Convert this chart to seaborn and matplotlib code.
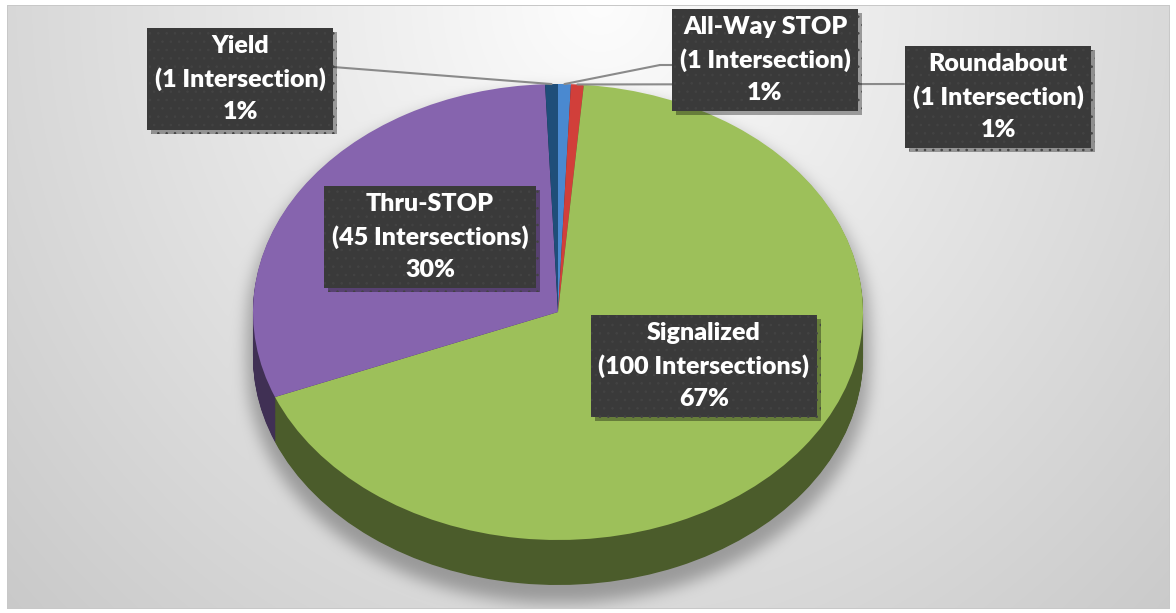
import numpy as np
import matplotlib
matplotlib.use('Agg')
import matplotlib.pyplot as plt
import matplotlib.colors as mcolors
import matplotlib.patheffects as pe
import seaborn as sns

# ---------------- data ----------------
categories = ['All-Way STOP', 'Roundabout', 'Signalized', 'Thru-STOP', 'Yield']
counts = [1, 1, 100, 45, 1]
count_labels = ['(1 Intersection)', '(1 Intersection)', '(100 Intersections)',
                '(45 Intersections)', '(1 Intersection)']
pct_labels = ['1%', '1%', '67%', '30%', '1%']
slice_colors = ['#4A89D0', '#D13F3A', '#9DC05A', '#8664AE', '#1F4E79']

# ---------------- layout (pixels, top-left origin) ----------------
W, H, DPI = 1176, 613, 100
CX, CY, RX, RY, DEPTH = 558, 312, 305, 228, 45
label_centers = {
    'All-Way STOP': (765, 60),
    'Roundabout': (998, 97),
    'Signalized': (704, 366),
    'Thru-STOP': (430, 237),
    'Yield': (240, 79),
}
leader_ends = {
    'All-Way STOP': [(660, 65), (672, 65)],
    'Roundabout': [(904, 84)],
    'Yield': [(333, 67)],
}

sns.set_theme(style='white')
plt.rcParams['font.family'] = ['Lato', 'DejaVu Sans']
plt.rcParams['hatch.linewidth'] = 0.6
palette = sns.color_palette(slice_colors)

fig = plt.figure(figsize=(W / DPI, H / DPI), dpi=DPI)
fig.patch.set_facecolor('white')

# ---------------- background with soft shadow ----------------
yy, xx = np.mgrid[0:H, 0:W].astype(float)
d = np.sqrt(((xx - 600) / 600) ** 2 + (yy / 650) ** 2)
val = 253 - 38 * d


def box_blur(a, r):
    for axis in (0, 1):
        a = np.swapaxes(a, 0, axis)
        p = np.pad(a, ((r + 1, r), (0, 0)), mode='edge')
        c = np.cumsum(p, axis=0)
        a = (c[2 * r + 1:] - c[:-2 * r - 1]) / (2 * r + 1)
        a = np.swapaxes(a, 0, axis)
    return a


sx, sy, grow = 0, 12, 6
top_e = ((xx - CX - sx) / (RX + grow)) ** 2 + ((yy - CY - sy) / (RY + grow)) ** 2 <= 1
bot_e = ((xx - CX - sx) / (RX + grow)) ** 2 + ((yy - CY - DEPTH - sy) / (RY + grow)) ** 2 <= 1
band = (np.abs(xx - CX - sx) <= RX + grow) & (yy >= CY + sy) & (yy <= CY + DEPTH + sy)
sil = (top_e | bot_e | band).astype(float)
for _ in range(3):
    sil = box_blur(sil, 7)
val = val - 65 * sil

outside = (xx < 7) | (xx > 1169) | (yy < 5) | (yy > 608)
val[outside] = 255
edge = ((np.abs(xx - 7) < 1) | (np.abs(xx - 1169) < 1)) & (yy >= 5) & (yy <= 608)
edge |= ((np.abs(yy - 5) < 1) | (np.abs(yy - 608) < 1)) & (xx >= 7) & (xx <= 1169)
val[edge] = 200
rgb = np.clip(np.stack([val, val, val], axis=-1) / 255.0, 0, 1)

bg = fig.add_axes([0, 0, 1, 1], zorder=0)
bg.imshow(rgb, extent=(0, W, H, 0), aspect='auto', interpolation='bilinear')
bg.set_xlim(0, W)
bg.set_ylim(H, 0)
bg.axis('off')

# ---------------- pie ----------------
ax = fig.add_axes([0, 0, 1, 1], zorder=1)
ax.patch.set_alpha(0)

depth_data = DEPTH / RY
side_colors = [tuple(np.array(mcolors.to_rgb(c)) * 0.48) for c in palette]
n_layers = 50
for k in range(n_layers, 0, -1):
    off = k / n_layers * depth_data
    ax.pie(counts, colors=side_colors, startangle=90, counterclock=False,
           center=(0, -off), radius=1, wedgeprops=dict(linewidth=0))
wedges, _ = ax.pie(counts, colors=palette, startangle=90, counterclock=False,
                   center=(0, 0), radius=1, wedgeprops=dict(linewidth=0))

ax.set_aspect('auto')
ax.set_xlim(-CX / RX, (W - CX) / RX)
ax.set_ylim(-(H - CY) / RY, CY / RY)
ax.axis('off')

# ---------------- labels & leaders ----------------
line_color = '#8a8a8a'
for w, cat, cl, pl in zip(wedges, categories, count_labels, pct_labels):
    mid = np.deg2rad((w.theta1 + w.theta2) / 2)
    anchor = (np.cos(mid), np.sin(mid))
    if cat in leader_ends:
        pts = leader_ends[cat]
        first = pts[0]
        ax.annotate('', xy=anchor, xycoords='data',
                    xytext=(first[0], H - first[1]), textcoords='figure pixels',
                    arrowprops=dict(arrowstyle='-', color=line_color, lw=1.5,
                                    shrinkA=0, shrinkB=0), zorder=3)
        for a, b in zip(pts[:-1], pts[1:]):
            ax.annotate('', xy=(a[0], H - a[1]), xycoords='figure pixels',
                        xytext=(b[0], H - b[1]), textcoords='figure pixels',
                        arrowprops=dict(arrowstyle='-', color=line_color, lw=1.5,
                                        shrinkA=0, shrinkB=0), zorder=3)
    px, py = label_centers[cat]
    t = ax.annotate(f'{cat}\n{cl}\n{pl}', xy=(px, H - py), xycoords='figure pixels',
                    ha='center', va='center', color='white', fontsize=18,
                    fontweight='heavy', linespacing=1.52, zorder=5,
                    bbox=dict(boxstyle='square,pad=0.3', fc='#3a3a3a',
                              ec='#434343', lw=0, hatch='..'))
    t.get_bbox_patch().set_path_effects([
        pe.SimplePatchShadow(offset=(3, -3), alpha=0.35, shadow_rgbFace='black'),
        pe.Normal()])

fig.savefig('out.png', dpi=DPI)
